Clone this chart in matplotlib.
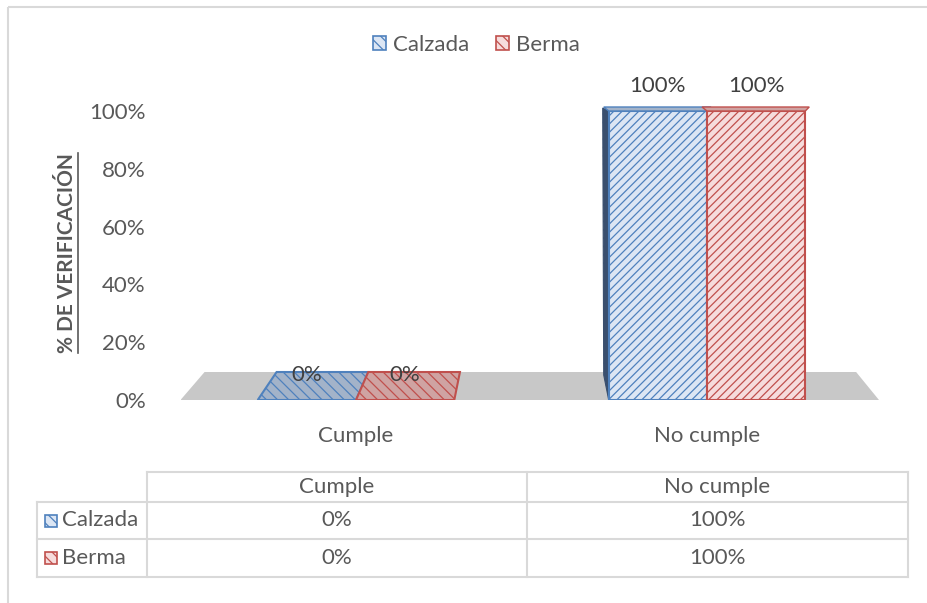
import numpy as np
import matplotlib.pyplot as plt
from matplotlib.patches import Polygon, Rectangle, Patch

plt.rcParams['font.family'] = ['Lato', 'DejaVu Sans']
plt.rcParams['hatch.linewidth'] = 0.9

# Datos del gráfico
categorias = ['Cumple', 'No cumple']
series = ['Calzada', 'Berma']
calzada = [0.0, 1.0]
berma = [0.0, 1.0]
valores = [calzada, berma]

gris = '#595959'
borde = ['#4f81bd', '#c0504d']
relleno = ['#dce6f4', '#f6dcdc']
tapa_cero = ['#a3b3c9', '#cfa3a2']
lado = ['#3a4f6e', '#8a3b39']
fs = 16

W, H = 927, 603
fig = plt.figure(figsize=(W / 100, H / 100), dpi=100)

# capa de fondo en pixeles (borde del gráfico y tabla)
fondo = fig.add_axes([0, 0, 1, 1], zorder=0)
fondo.set_xlim(0, W)
fondo.set_ylim(H, 0)
fondo.axis('off')
fondo.add_patch(Rectangle((8, 7), W, H, fill=False, ec='#d9d9d9', lw=1.5))

# ejes principales: y=0 en px 400, y=1 en px 111
px_x0, px_x1 = 180.5, 882.5
py0, py1 = 400, 111
ymax = 1.1
alto = (py0 - py1) * ymax
ax = fig.add_axes([px_x0 / W, (H - py0) / H, (px_x1 - px_x0) / W, alto / H], zorder=1)
ax.set_xlim(-0.5, 1.5)
ax.set_ylim(0, ymax)
for s in ax.spines.values():
    s.set_visible(False)

ux = 2.0 / (px_x1 - px_x0)   # unidades por pixel en x
uy = 1.0 / (py0 - py1)       # unidades por pixel en y

def desplazamiento(x):
    # perspectiva del fondo (px) segun posicion x en datos
    xp = px_x0 + (x + 0.5) / ux
    return (36.2 - 0.0672 * xp) * ux

# piso gris
fx0, fx1 = -0.5, 1.49
prof = 28 * uy
ax.add_patch(Polygon([(fx0, 0), (fx1, 0), (fx1 + desplazamiento(fx1), prof),
                      (fx0 + desplazamiento(fx0), prof)],
                     closed=True, fc='#c8c8c8', ec='none', zorder=1))

x = np.arange(len(categorias))
ancho = 0.28
offs = [-ancho / 2, ancho / 2]

for i, vals in enumerate(valores):
    for j, v in enumerate(vals):
        x0 = x[j] + offs[i] - ancho / 2
        x1 = x0 + ancho
        if v > 0:
            # lado izquierdo oscuro (solo serie izquierda)
            if i == 0:
                ax.add_patch(Polygon([(x0, 0), (x0, v), (x0 - 6 * ux, v + 3 * uy),
                                      (x0 - 5 * ux, 25 * uy)], closed=True,
                                     fc=lado[i], ec=lado[i], hatch='////', lw=0.8, zorder=2))
            ax.bar(x0 + ancho / 2, v, width=ancho, color=relleno[i], edgecolor=borde[i],
                   hatch='////', linewidth=1.5, zorder=3)
            ax.add_patch(Polygon([(x0, v), (x1, v), (x1 + 4 * ux, v + 4 * uy),
                                  (x0 - 5 * ux, v + 4 * uy)], closed=True,
                                 fc=tapa_cero[i], ec=borde[i], lw=1.0, zorder=3, clip_on=False))
        else:
            ax.add_patch(Polygon([(x0, 0), (x1, 0), (x1 + desplazamiento(x1), prof),
                                  (x0 + desplazamiento(x0), prof)], closed=True,
                                 fc=tapa_cero[i], ec=borde[i], hatch='\\\\\\', lw=1.5, zorder=3))
        ax.text(x0 + ancho / 2, v + 0.085, f'{v:.0%}', ha='center', va='center',
                fontsize=fs, color='#404040', zorder=5)

ax.set_yticks(np.arange(0, 1.01, 0.2))
ax.set_yticklabels([f'{t:.0%}' for t in np.arange(0, 1.01, 0.2)])
ax.set_xticks(x)
ax.set_xticklabels(categorias)
ax.tick_params(axis='y', length=0, pad=25, labelsize=fs, labelcolor=gris)
ax.tick_params(axis='x', length=0, pad=19, labelsize=fs, labelcolor=gris)

# etiqueta eje y subrayada
yl = fig.text(67 / W, 1 - 253 / H, '% DE VERIFICACIÓN', rotation=90, ha='center', va='center',
              fontsize=15, fontweight='bold', color=gris)
fig.canvas.draw()
bb = yl.get_window_extent()
fondo.plot([bb.x1 + 1, bb.x1 + 1], [H - bb.y0, H - bb.y1], color=gris, lw=1.2)

# leyenda
manijas = [Patch(fc=relleno[i], ec=borde[i], hatch='\\\\\\', lw=1.2) for i in range(2)]
fig.legend(manijas, series, loc='center', bbox_to_anchor=(476 / W, 1 - 45 / H), ncol=2,
           frameon=False, fontsize=fs, handlelength=0.6, handleheight=0.6, handletextpad=0.3,
           columnspacing=1.2, labelcolor=gris)

# tabla de datos
cx = [37, 147, 527, 908]
ry = [472, 502, 539, 577]
lc = '#d9d9d9'
fondo.plot([cx[1], cx[3]], [ry[0], ry[0]], color=lc, lw=1.5)
for yy in ry[1:]:
    fondo.plot([cx[0], cx[3]], [yy, yy], color=lc, lw=1.5)
fondo.plot([cx[0], cx[0]], [ry[1], ry[3]], color=lc, lw=1.5)
for xx in cx[1:]:
    fondo.plot([xx, xx], [ry[0], ry[3]], color=lc, lw=1.5)
for j, c in enumerate(categorias):
    fondo.text((cx[j + 1] + cx[j + 2]) / 2, (ry[0] + ry[1]) / 2, c, ha='center', va='center',
               fontsize=fs, color=gris)
for i, s in enumerate(series):
    yc = (ry[i + 1] + ry[i + 2]) / 2
    fondo.add_patch(Rectangle((45, yc - 6), 12, 12, fc=relleno[i], ec=borde[i],
                              hatch='\\\\\\', lw=1.2))
    fondo.text(62, yc, s, ha='left', va='center', fontsize=fs, color=gris)
    for j, v in enumerate(valores[i]):
        fondo.text((cx[j + 1] + cx[j + 2]) / 2, yc, f'{v:.0%}', ha='center', va='center',
                   fontsize=fs, color=gris)

fig.savefig('out.png', dpi=100)
